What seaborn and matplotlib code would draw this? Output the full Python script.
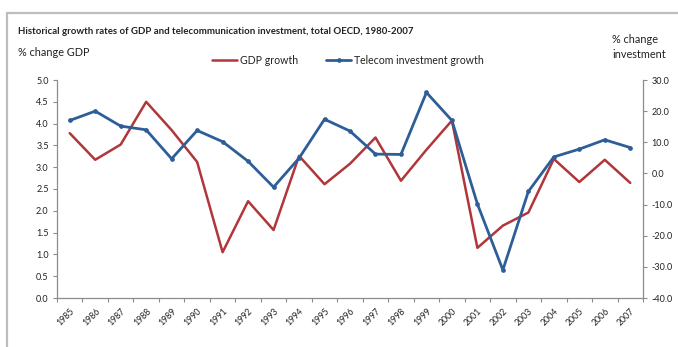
import matplotlib
matplotlib.use("Agg")
import matplotlib.pyplot as plt
from matplotlib.patches import Rectangle
from matplotlib.lines import Line2D
from matplotlib.ticker import FixedLocator, NullFormatter
import numpy as np
import pandas as pd
import seaborn as sns

years = [str(y) for y in range(1985, 2008)]
gdp_growth = [3.78, 3.17, 3.52, 4.50, 3.85, 3.12, 1.05, 2.22, 1.56, 3.26,
              2.61, 3.08, 3.68, 2.69, 3.40, 4.07, 1.15, 1.66, 1.96, 3.19,
              2.66, 3.17, 2.64]
telecom_growth = [17.0, 20.0, 15.2, 14.0, 4.7, 13.8, 10.2, 3.9, -4.4, 4.9,
                  17.4, 13.6, 6.2, 6.1, 26.0, 17.0, -9.8, -31.0, -5.8, 5.3,
                  7.8, 10.8, 8.3]

left_ticks = [0.0, 0.5, 1.0, 1.5, 2.0, 2.5, 3.0, 3.5, 4.0, 4.5, 5.0]
right_ticks = [-40, -30, -20, -10, 0, 10, 20, 30]

RED = "#B0363A"
BLUE = "#2E5E98"
GREY = "#8C8C8C"
TXT = "#222222"

sns.set_theme(style="white")
plt.rcParams["font.family"] = ["Lato", "DejaVu Sans"]

df = pd.DataFrame({"pos": np.arange(len(years)), "year": years,
                   "gdp": gdp_growth, "telecom": telecom_growth})

fig = plt.figure(figsize=(6.78, 3.47), dpi=100)
fig.patch.set_facecolor("white")

# outer frame of the chart
fig.add_artist(Rectangle((7 / 678, -0.05), 1.2, 1 - 13 / 347 + 0.05,
                         transform=fig.transFigure, fill=False,
                         edgecolor="#BDBDBD", linewidth=1.6))

ax = fig.add_axes([57 / 678, 1 - 298 / 347, (643 - 57) / 678, (298 - 80) / 347])
ax2 = ax.twinx()

sns.lineplot(data=df, x="pos", y="gdp", ax=ax, color=RED, linewidth=1.8,
             legend=False)
sns.lineplot(data=df, x="pos", y="telecom", ax=ax2, color=BLUE, linewidth=2.0,
             marker="o", markersize=3.4, markeredgewidth=0, legend=False)

ax.set_xlim(-0.5, len(years) - 0.5)
ax.set_ylim(0, 5)
ax2.set_ylim(-40, 30)
ax.set_xlabel("")
ax.set_ylabel("")
ax2.set_ylabel("")

ax.set_xticks(df["pos"])
ax.set_xticklabels(years, rotation=45, ha="right", rotation_mode="anchor",
                   fontsize=6.3, color=TXT)
ax.xaxis.set_minor_locator(FixedLocator(np.arange(-0.5, len(years), 1.0)))
ax.xaxis.set_minor_formatter(NullFormatter())
ax.tick_params(axis="x", which="major", length=0, pad=6)
ax.tick_params(axis="x", which="minor", length=3, width=0.8, color=GREY,
               direction="out", bottom=True)

ax.set_yticks(left_ticks)
ax.set_yticklabels([f"{v:.1f}" for v in left_ticks], fontsize=6.5, color=TXT)
ax.tick_params(axis="y", length=3, width=0.8, color=GREY, direction="out",
               left=True, pad=3)
ax2.set_yticks(right_ticks)
ax2.set_yticklabels([f"{v:.1f}" for v in right_ticks], fontsize=6.5, color=TXT)
ax2.tick_params(axis="y", length=3, width=0.8, color=GREY, direction="out",
                right=True, pad=3)

for a in (ax, ax2):
    a.grid(False)
    a.spines["top"].set_visible(False)
    for side in ("left", "right", "bottom"):
        a.spines[side].set_color(GREY)
        a.spines[side].set_linewidth(0.9)
ax.spines["right"].set_visible(False)
ax2.spines["left"].set_visible(False)
ax2.spines["bottom"].set_visible(False)

fig.text(18 / 678, 1 - 31 / 347,
         "Historical growth rates of GDP and telecommunication investment, total OECD, 1980-2007",
         fontsize=6.9, fontweight="bold", color=TXT, va="center", ha="left")
fig.text(18 / 678, 1 - 53 / 347, "% change GDP", fontsize=7.8, color=TXT,
         va="center", ha="left")
fig.text(612 / 678, 1 - 47 / 347, "% change\ninvestment", fontsize=7.8,
         color=TXT, va="center", ha="left", linespacing=1.35)

handles = [Line2D([], [], color=RED, linewidth=1.8),
           Line2D([], [], color=BLUE, linewidth=2.0, marker="o",
                  markersize=3.4, markeredgewidth=0)]
fig.legend(handles, ["GDP growth", "Telecom investment growth"],
           loc="center", bbox_to_anchor=(348 / 678, 1 - 60 / 347), ncol=2,
           frameon=False, fontsize=7.6, handlelength=2.4, handletextpad=0.3,
           columnspacing=2.6, labelcolor=TXT)

fig.savefig("out.png", dpi=100)
